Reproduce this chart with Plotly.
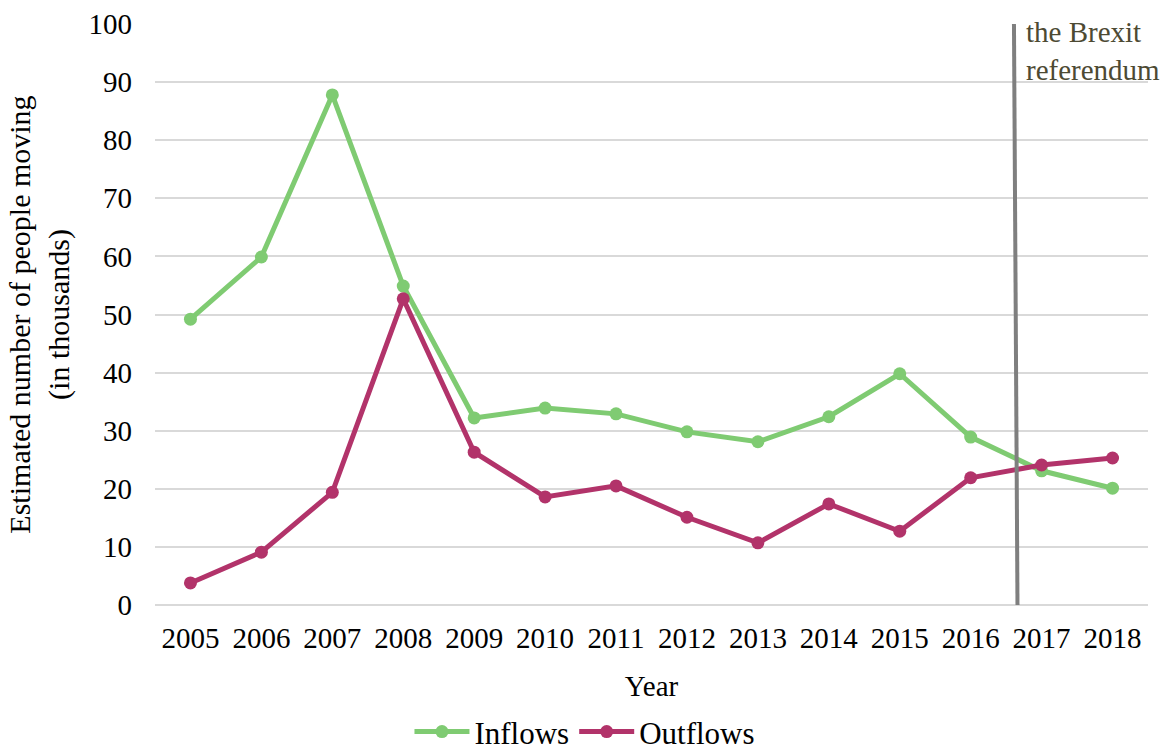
import plotly.graph_objects as go

years = [2005, 2006, 2007, 2008, 2009, 2010, 2011, 2012, 2013, 2014, 2015, 2016, 2017, 2018]
inflows = [49.2, 59.9, 87.8, 54.9, 32.2, 33.9, 32.9, 29.8, 28.1, 32.4, 39.8, 28.9, 23.1, 20.1]
outflows = [3.8, 9.1, 19.4, 52.7, 26.3, 18.6, 20.5, 15.1, 10.7, 17.4, 12.7, 21.9, 24.1, 25.3]
y_ticks = [0, 10, 20, 30, 40, 50, 60, 70, 80, 90, 100]
referendum_x = [2016.61, 2016.66]
referendum_label = "the Brexit<br>referendum"

FONT = "Liberation Serif, Times New Roman, serif"
FS = 29
GREEN = "#7fcb72"
PURPLE = "#b2336a"

fig = go.Figure()
fig.add_trace(go.Scatter(
    x=years, y=inflows, name="Inflows", mode="lines+markers",
    line=dict(color=GREEN, width=5), marker=dict(color=GREEN, size=13),
))
fig.add_trace(go.Scatter(
    x=years, y=outflows, name="Outflows", mode="lines+markers",
    line=dict(color=PURPLE, width=5), marker=dict(color=PURPLE, size=13),
))

fig.add_shape(type="line", xref="x", yref="y",
              x0=referendum_x[0], y0=100.4, x1=referendum_x[1], y1=0,
              line=dict(color="#7f7f7f", width=4), layer="above")

fig.add_annotation(x=referendum_x[0], y=100, xref="x", yref="y",
                   text=referendum_label, showarrow=False,
                   xanchor="left", yanchor="top", align="left",
                   xshift=10, yshift=10,
                   font=dict(family=FONT, size=FS, color="#4d4a33"))

fig.update_layout(
    width=1163, height=753,
    margin=dict(l=155, r=15, t=24, b=148, autoexpand=False),
    paper_bgcolor="white", plot_bgcolor="white",
    font=dict(family=FONT, size=FS, color="black"),
    showlegend=True,
    legend=dict(orientation="h", x=0.433, xanchor="center", y=-0.172, yanchor="top",
                font=dict(family=FONT, size=31, color="black"),
                itemwidth=55, traceorder="normal", bgcolor="rgba(0,0,0,0)"),
)
fig.update_xaxes(
    range=[2004.5, 2018.5], tickmode="array", tickvals=years,
    ticktext=[str(y) for y in years], showgrid=False, zeroline=False,
    showline=False, ticks="", ticklen=0, automargin=False,
    ticklabelstandoff=13,
    tickfont=dict(family=FONT, size=FS, color="black"),
    title=dict(text="Year", font=dict(family=FONT, size=FS, color="black"), standoff=22),
)
fig.update_yaxes(
    range=[0, 100], tickmode="array", tickvals=y_ticks,
    showgrid=True, gridcolor="#d9d9d9", gridwidth=1.5,
    zeroline=True, zerolinecolor="#d9d9d9", zerolinewidth=1.5,
    showline=False, ticks="", ticklen=0, automargin=False,
    ticklabelstandoff=22,
    tickfont=dict(family=FONT, size=FS, color="black"),
    title=dict(text="Estimated number of people moving<br>(in thousands)",
               font=dict(family=FONT, size=30, color="black"), standoff=10),
)

fig.write_html("out.html",
               config={"displayModeBar": False},
               post_script="document.body.style.margin='0';document.body.style.overflow='hidden';")
